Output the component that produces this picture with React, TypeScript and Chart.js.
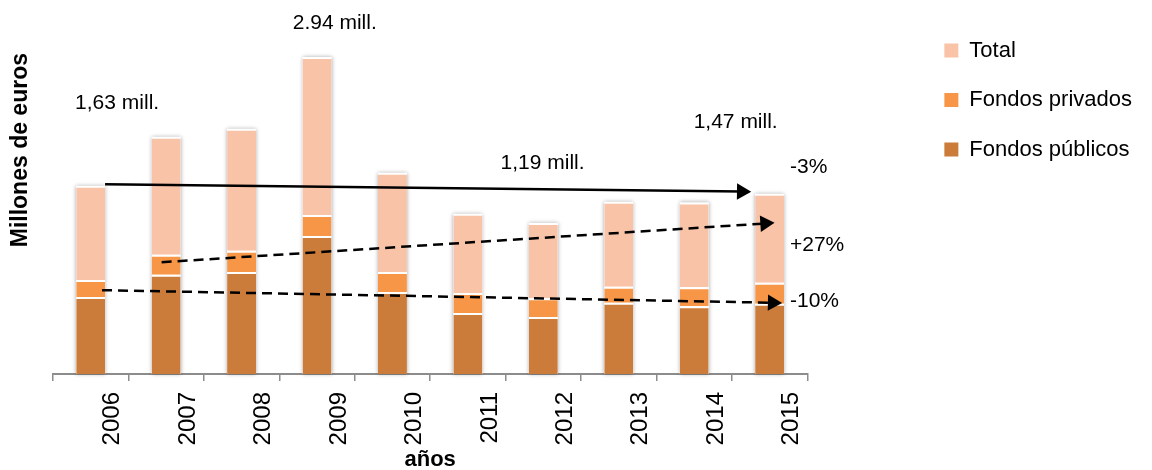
import React, { useEffect, useRef } from "react";
import { Chart, registerables } from "chart.js";

Chart.register(...registerables);

const years = ["2006", "2007", "2008", "2009", "2010", "2011", "2012", "2013", "2014", "2015"];
const fondosPublicos = [1.35, 1.74, 1.79, 2.42, 1.44, 1.07, 1.0, 1.25, 1.19, 1.23];
const fondosPrivados = [0.3, 0.35, 0.37, 0.37, 0.35, 0.35, 0.33, 0.28, 0.33, 0.37];
const totalValues = [1.65, 2.07, 2.14, 2.77, 1.74, 1.39, 1.32, 1.49, 1.49, 1.56];

// Arrow annotations (x = category index, y = value)
const arrowTotal = [{ x: 0.19, y: 3.33 }, { x: 8.63, y: 3.2 }];
const arrowPrivados = [{ x: 0.94, y: 1.96 }, { x: 8.94, y: 2.64 }];
const arrowPublicos = [{ x: 0.15, y: 1.47 }, { x: 9.04, y: 1.25 }];

// Text annotations
const noteTexts = ["1,63 mill.", "2.94 mill.", "1,19 mill.", "1,47 mill.", "-3%", "+27%", "-10%"];
const noteX = [0.35, 3.235, 5.99, 8.55, 9.27, 9.27, 9.27];
const noteY = [4.75, 6.16, 3.7, 4.42, 3.63, 2.26, 1.28];
const noteAlign = ["center", "center", "center", "center", "left", "left", "left"];

const FONT = "'Liberation Sans', Arial, sans-serif";
const Y_MAX = 5.63;

const arrowRotation = (ctx: any) => {
  const chart = ctx.chart;
  const data = ctx.dataset.data;
  const xs = chart.scales.x;
  const ys = chart.scales.yl;
  if (!xs || !ys) return 90;
  const x0 = xs.getPixelForValue(data[0].x);
  const y0 = ys.getPixelForValue(data[0].y);
  const x1 = xs.getPixelForValue(data[1].x);
  const y1 = ys.getPixelForValue(data[1].y);
  return 90 + (Math.atan2(y1 - y0, x1 - x0) * 180) / Math.PI;
};

// soft shadow behind each whole stacked bar
const barShadowPlugin = {
  id: "barShadow",
  beforeDatasetsDraw(chart: any) {
    const bottomMeta = chart.getDatasetMeta(0);
    const topMeta = chart.getDatasetMeta(2);
    if (!bottomMeta || !topMeta) return;
    const ctx = chart.ctx;
    ctx.save();
    ctx.shadowColor = "rgba(0,0,0,0.35)";
    ctx.shadowBlur = 4;
    ctx.fillStyle = "#ffffff";
    bottomMeta.data.forEach((el: any, i: number) => {
      const topEl = topMeta.data[i];
      if (!topEl) return;
      const w = el.width;
      ctx.fillRect(el.x - w / 2, topEl.y, w, el.base - topEl.y);
    });
    ctx.restore();
  },
};

const notesPlugin = {
  id: "notes",
  afterDraw(chart: any) {
    const ctx = chart.ctx;
    const xs = chart.scales.x;
    const ys = chart.scales.yl;
    ctx.save();
    ctx.fillStyle = "#000";
    ctx.font = `21px ${FONT}`;
    ctx.textBaseline = "middle";
    noteTexts.forEach((t, i) => {
      ctx.textAlign = noteAlign[i];
      ctx.fillText(t, xs.getPixelForValue(noteX[i]), ys.getPixelForValue(noteY[i]));
    });
    ctx.restore();
  },
};

const arrowDataset = (label: string, data: any[], dashed: boolean) => ({
  type: "line" as const,
  label,
  data,
  parsing: false,
  xAxisID: "x",
  yAxisID: "yl",
  borderColor: "#000",
  borderWidth: 2.5,
  borderDash: dashed ? [10, 6] : [],
  borderCapStyle: "butt" as const,
  pointStyle: "triangle" as const,
  pointRadius: [0, 9.5],
  pointHoverRadius: [0, 9.5],
  pointBackgroundColor: "#000",
  pointBorderColor: "#000",
  pointBorderWidth: 0,
  pointRotation: arrowRotation,
  fill: false,
  order: 0,
  clip: false as any,
});

export default function App() {
  const ref = useRef<HTMLCanvasElement | null>(null);

  useEffect(() => {
    if (!ref.current) return;
    Chart.defaults.font.family = FONT;
    const barBorder = { top: 2, left: 0, right: 0, bottom: 0 };
    const chart = new Chart(ref.current, {
      type: "bar",
      data: {
        labels: years,
        datasets: [
          {
            label: "Fondos públicos",
            data: fondosPublicos,
            backgroundColor: "#CB7B3A",
            borderColor: "#ffffff",
            borderWidth: barBorder,
            borderSkipped: false,
            order: 1,
          } as any,
          {
            label: "Fondos privados",
            data: fondosPrivados,
            backgroundColor: "#F79646",
            borderColor: "#ffffff",
            borderWidth: barBorder,
            borderSkipped: false,
            order: 1,
          },
          {
            label: "Total",
            data: totalValues,
            backgroundColor: "#F9C3A8",
            borderColor: "#ffffff",
            borderWidth: barBorder,
            borderSkipped: false,
            order: 1,
          },
          arrowDataset("a1", arrowTotal, false) as any,
          arrowDataset("a2", arrowPrivados, true) as any,
          arrowDataset("a3", arrowPublicos, true) as any,
        ],
      },
      options: {
        responsive: false,
        animation: false,
        devicePixelRatio: 1,
        layout: { padding: { top: 12, right: 10, bottom: 0, left: 0 } },
        datasets: {
          bar: { barPercentage: 0.384, categoryPercentage: 1, grouped: false },
        },
        scales: {
          x: {
            stacked: true,
            grid: {
              display: true,
              drawOnChartArea: false,
              drawTicks: true,
              tickLength: 7,
              color: "#8c8c8c",
              lineWidth: 1.5,
              offset: true,
            },
            border: { display: true, color: "#8c8c8c", width: 2 },
            ticks: {
              font: { size: 24, family: FONT },
              color: "#000",
              minRotation: 90,
              maxRotation: 90,
              labelOffset: 22,
              padding: 11,
              autoSkip: false,
            },
            title: {
              display: true,
              text: "años",
              color: "#000",
              font: { size: 22, weight: "bold", family: FONT, lineHeight: 0.9 },
              padding: 0,
            },
            afterFit: (s: any) => {
              s.height = 96;
            },
          },
          y: {
            stacked: true,
            min: 0,
            max: Y_MAX,
            grid: { display: false, drawTicks: false },
            border: { display: false },
            ticks: { display: false },
            title: {
              display: true,
              text: "Millones de euros",
              align: "end",
              color: "#000",
              font: { size: 23, weight: "bold", family: FONT },
              padding: { top: 7, bottom: 0 },
            },
            afterFit: (s: any) => {
              s.width = 53;
            },
          },
          yr: {
            type: "linear",
            position: "right",
            display: true,
            grid: { display: false, drawTicks: false },
            border: { display: false },
            ticks: { display: false },
            afterFit: (s: any) => {
              s.width = 109.5;
            },
          },
          yl: { type: "linear", display: false, min: 0, max: Y_MAX },
        } as any,
        plugins: {
          title: {
            display: true,
            text: "",
            fullSize: false,
            font: { size: 10, lineHeight: 1 },
            padding: { top: 0, bottom: 31 },
          },
          legend: {
            position: "right",
            align: "start",
            reverse: true,
            maxWidth: 400,
            labels: {
              boxWidth: 14,
              boxHeight: 14,
              padding: 27.5,
              color: "#000",
              font: { size: 22, family: FONT },
              filter: (item: any) => item.datasetIndex < 3,
              generateLabels: (c: any) =>
                Chart.defaults.plugins.legend.labels
                  .generateLabels(c)
                  .map((l: any) => ({ ...l, lineWidth: 0, strokeStyle: "rgba(0,0,0,0)" })),
            },
          },
          tooltip: { enabled: false },
        },
      } as any,
      plugins: [barShadowPlugin, notesPlugin],
    });
    return () => chart.destroy();
  }, []);

  return (
    <div style={{ position: "absolute", left: 0, top: 0, width: 1152, height: 470, background: "#fff" }}>
      <canvas ref={ref} width={1152} height={470} />
    </div>
  );
}
